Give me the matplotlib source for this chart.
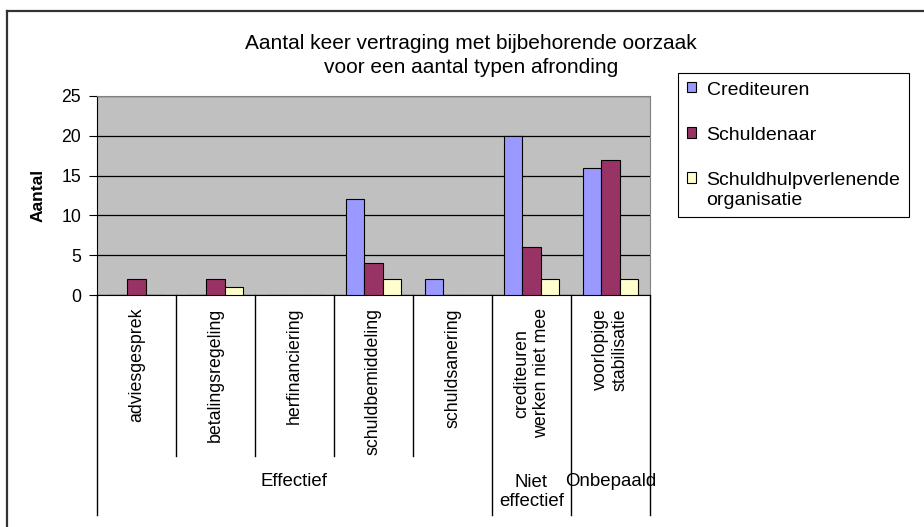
import numpy as np
import matplotlib
matplotlib.use("Agg")
import matplotlib.pyplot as plt
from matplotlib.lines import Line2D
import matplotlib.transforms as mtransforms

plt.rcParams['font.family'] = ['Liberation Sans', 'DejaVu Sans']

# data
categories = ['adviesgesprek', 'betalingsregeling', 'herfinanciering', 'schuldbemiddeling',
              'schuldsanering', 'crediteuren\nwerken niet mee', 'voorlopige\nstabilisatie']
groups = ['Effectief', 'Niet\neffectief', 'Onbepaald']
group_sizes = [5, 1, 1]
series_names = ['Crediteuren', 'Schuldenaar', 'Schuldhulpverlenende\norganisatie']
crediteuren = [0, 0, 0, 12, 2, 20, 16]
schuldenaar = [2, 2, 0, 4, 0, 6, 17]
schuldhulp = [0, 1, 0, 2, 0, 2, 2]
colors = ['#9999FF', '#993366', '#FFFFCC']

W, H = 924, 527
fig = plt.figure(figsize=(W / 100, H / 100), dpi=100)

def fx(px):
    return px / W

def fy(py):
    return 1 - py / H

# plot area in pixels: left 97, right 650, top 96, bottom 295
ax = fig.add_axes([fx(97), fy(295), fx(650) - fx(97), fy(96) - fy(295)])
ax.set_facecolor('#C0C0C0')

x = np.arange(len(categories))
w = 0.228
bars = []
for i, (vals, c) in enumerate(zip([crediteuren, schuldenaar, schuldhulp], colors)):
    b = ax.bar(x + (i - 1) * w, vals, width=w, color=c, edgecolor='black', linewidth=0.8,
               zorder=3, label=series_names[i])
    bars.append(b)

ax.set_xlim(-0.5, len(categories) - 0.5)
ax.set_ylim(0, 25)
ax.set_yticks(range(0, 26, 5))
ax.tick_params(axis='y', direction='out', length=6, width=0.8, pad=5.5, labelsize=12.7)
ax.set_xticks([])
ax.yaxis.grid(True, color='black', linewidth=0.9, zorder=1)
ax.set_axisbelow(True)
for s in ['top', 'right']:
    ax.spines[s].set_color('#808080')
for s in ['left', 'bottom']:
    ax.spines[s].set_color('black')

# category axis below the plot
trans = mtransforms.blended_transform_factory(ax.transData, ax.transAxes)
ax_h = 295 - 96

def ay(py):
    return (295 - py) / ax_h

bounds = np.arange(len(categories) + 1) - 0.5
group_edges = np.concatenate([[0], np.cumsum(group_sizes)])
for k, bx in enumerate(bounds):
    long_line = k in group_edges
    y_end = ay(515) if long_line else ay(456)
    ax.add_line(Line2D([bx, bx], [0, y_end], color='black', linewidth=1.0,
                       transform=trans, clip_on=False))

for xi, lab in zip(x, categories):
    ax.text(xi, ay(308), lab, rotation=90, ha='center', va='top', multialignment='center',
            fontsize=12.8, linespacing=1.2, transform=trans)

for gi, g in enumerate(groups):
    gx = (bounds[group_edges[gi]] + bounds[group_edges[gi + 1]]) / 2
    gy = ay(492) if '\n' in g else ay(481)
    ax.text(gx, gy, g, ha='center', va='center', fontsize=13.4, linespacing=1.1,
            transform=trans)

# y label
fig.text(fx(38), fy(195), 'Aantal', rotation=90, ha='center', va='center',
         fontsize=12.5, fontweight='bold')

# title
fig.text(fx(471), fy(55.5), 'Aantal keer vertraging met bijbehorende oorzaak\nvoor een aantal typen afronding',
         ha='center', va='center', fontsize=15, linespacing=1.3)

# legend
leg = fig.legend(handles=bars, labels=series_names, loc='upper left',
                 bbox_to_anchor=(fx(678), fy(73)), fontsize=14, frameon=True,
                 fancybox=False, edgecolor='black', framealpha=1, borderpad=0.45,
                 handlelength=0.47, handleheight=0.47, handletextpad=0.55,
                 labelspacing=1.45, borderaxespad=0)
leg.get_frame().set_linewidth(0.8)
# square next to the first line of a two-line label, like the original
for row in leg._legend_handle_box.get_children():
    for entry in row.get_children():
        entry.align = 'top'

# outer chart border (only top and left edges are visible)
fig.add_artist(Line2D([fx(7), fx(7)], [fy(11), 0], color='#333333', linewidth=1.6,
                      transform=fig.transFigure))
fig.add_artist(Line2D([fx(7), 1], [fy(11), fy(11)], color='#333333', linewidth=1.6,
                      transform=fig.transFigure))

fig.savefig('out.png', dpi=100)
